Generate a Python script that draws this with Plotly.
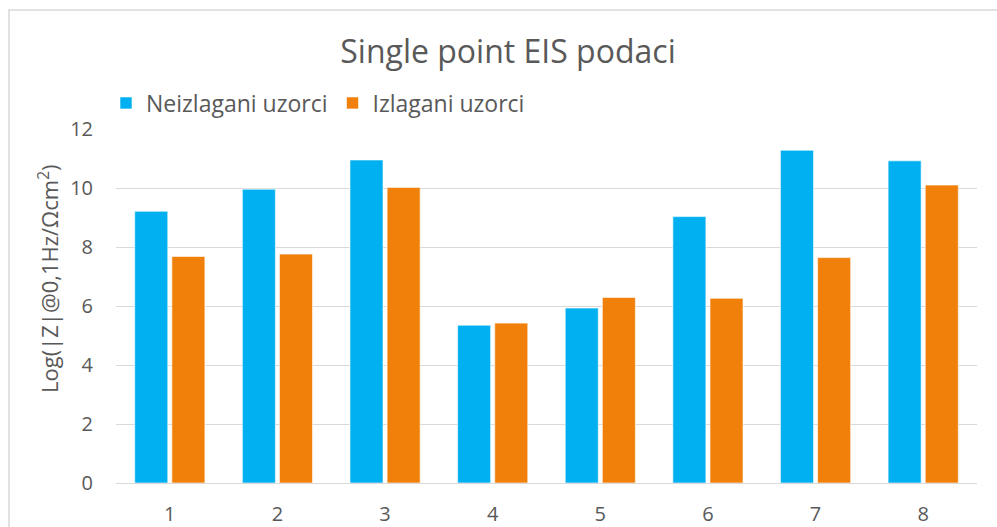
import plotly.graph_objects as go

# Sample numbers and measured impedance values (log scale)
samples = ["1", "2", "3", "4", "5", "6", "7", "8"]
neizlagani = [9.21, 9.96, 10.95, 5.35, 5.93, 9.03, 11.28, 10.92]
izlagani = [7.68, 7.76, 10.02, 5.42, 6.29, 6.26, 7.64, 10.10]
y_ticks = [0, 2, 4, 6, 8, 10, 12]

text_color = "#595959"
grid_color = "#d9d9d9"
font_family = "Open Sans"

W, H = 997, 527
ml, mr, mt, mb = 116, 20, 129, 44
pw, ph = W - ml - mr, H - mt - mb


def px_x(x):
    return (x - ml) / pw


def px_y(y):
    return (H - mb - y) / ph


fig = go.Figure()
fig.add_trace(go.Bar(
    x=samples, y=neizlagani, name="Neizlagani uzorci",
    marker=dict(color="#00B0F0", line=dict(color="rgba(255,255,255,0.6)", width=1)),
))
fig.add_trace(go.Bar(
    x=samples, y=izlagani, name="Izlagani uzorci",
    marker=dict(color="#F08009", line=dict(color="rgba(255,255,255,0.6)", width=1)),
))

fig.update_layout(
    width=W, height=H,
    margin=dict(l=ml, r=mr, t=mt, b=mb, autoexpand=False),
    paper_bgcolor="white", plot_bgcolor="white",
    barmode="group", bargap=0.31, bargroupgap=0.11,
    font=dict(family=font_family, color=text_color),
    title=dict(
        text="Single point EIS podaci",
        x=508 / W, xref="container", xanchor="center",
        y=1 - 52 / H, yref="container", yanchor="middle",
        font=dict(size=32, color=text_color, family=font_family),
    ),
    legend=dict(
        orientation="h", xref="container", yref="container",
        x=106 / W, xanchor="left", y=1 - 103 / H, yanchor="middle",
        font=dict(size=23, color=text_color, family=font_family),
        itemwidth=30, bgcolor="rgba(0,0,0,0)",
    ),
    xaxis=dict(
        showgrid=False, showline=False, ticks="", ticklabelstandoff=17,
        tickfont=dict(size=20, color=text_color),
    ),
    yaxis=dict(
        range=[0, 12], tickvals=y_ticks,
        showgrid=True, gridcolor=grid_color, gridwidth=1.4,
        zeroline=True, zerolinecolor=grid_color, zerolinewidth=1.4,
        showline=False, ticks="", ticklabelstandoff=22,
        tickfont=dict(size=20, color=text_color),
    ),
    annotations=[dict(
        text="Log(|Z|@0,1Hz/Ωcm<sup>2</sup>)", textangle=-90,
        xref="paper", yref="paper",
        x=px_x(48), y=px_y(279), xanchor="center", yanchor="middle",
        showarrow=False, font=dict(size=22, color=text_color, family=font_family),
    )],
    shapes=[dict(
        type="rect", xref="paper", yref="paper",
        x0=px_x(9), x1=px_x(1010), y0=px_y(560), y1=px_y(10),
        line=dict(color="#d9d9d9", width=1.5), fillcolor="rgba(0,0,0,0)",
        layer="below",
    )],
)

fig.write_html("out.html")
